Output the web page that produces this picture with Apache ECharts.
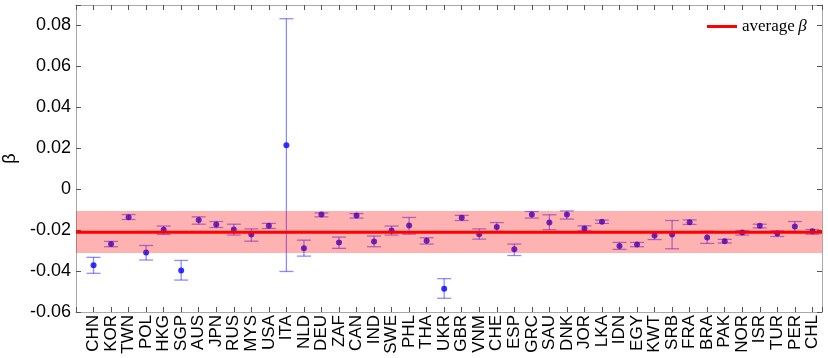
<!DOCTYPE html>
<html>
<head>
<meta charset="utf-8">
<script src="https://cdn.jsdelivr.net/npm/echarts@6.0.0/dist/echarts.min.js"></script>
<style>
  html, body { margin: 0; padding: 0; background: #fff; }
  #chart { width: 828px; height: 358px; }
</style>
</head>
<body>
<div id="chart"></div>
<script>
var countries = ['CHN','KOR','TWN','POL','HKG','SGP','AUS','JPN','RUS','MYS','USA','ITA',
  'NLD','DEU','ZAF','CAN','IND','SWE','PHL','THA','UKR',
  'GBR','VNM','CHE','ESP','GRC','SAU',
  'DNK','JOR','LKA','IDN','EGY','KWT','SRB','FRA','BRA','PAK','NOR','ISR','TUR','PER','CHL'];

var beta = [-0.0371,-0.0268,-0.0137,-0.0309,-0.0198,-0.0397,-0.0151,-0.0172,-0.0197,-0.0221,-0.0179,0.0215,
  -0.0288,-0.0124,-0.0260,-0.0128,-0.0255,-0.0202,-0.0177,-0.0252,-0.0486,
  -0.0140,-0.0220,-0.0185,-0.0294,-0.0124,-0.0163,
  -0.0124,-0.0192,-0.0159,-0.0278,-0.0270,-0.0226,-0.0221,-0.0161,-0.0236,-0.0254,-0.0211,-0.0179,-0.0216,-0.0182,-0.0206];

var betaHigh = [-0.0333,-0.0255,-0.0124,-0.0275,-0.0180,-0.0348,-0.0135,-0.0158,-0.0171,-0.0194,-0.0167,0.0833,
  -0.0249,-0.0116,-0.0234,-0.0119,-0.0229,-0.0180,-0.0138,-0.0237,-0.0437,
  -0.0128,-0.0194,-0.0163,-0.0268,-0.0109,-0.0125,
  -0.0106,-0.0179,-0.0151,-0.0260,-0.0260,-0.0208,-0.0153,-0.0150,-0.0205,-0.0245,-0.0202,-0.0171,-0.0203,-0.0158,-0.0197];

var betaLow = [-0.0411,-0.0281,-0.0148,-0.0346,-0.0221,-0.0444,-0.0171,-0.0187,-0.0224,-0.0254,-0.0192,-0.0402,
  -0.0327,-0.0135,-0.0289,-0.0141,-0.0281,-0.0224,-0.0220,-0.0268,-0.0533,
  -0.0153,-0.0244,-0.0206,-0.0324,-0.0141,-0.0198,
  -0.0146,-0.0203,-0.0167,-0.0294,-0.0281,-0.0246,-0.0291,-0.0172,-0.0265,-0.0263,-0.0224,-0.0189,-0.0231,-0.0206,-0.0220];

var avgBeta = -0.0210;
var bandLow = -0.0312;
var bandHigh = -0.0107;

var yTicks = [-0.06, -0.04, -0.02, 0, 0.02, 0.04, 0.06, 0.08];

var xMax = 42.55;

var points = [], errs = [];
for (var i = 0; i < countries.length; i++) {
  points.push([i + 1, beta[i]]);
  errs.push([i + 1, betaLow[i], betaHigh[i]]);
}

var tickStyle = { inside: true, length: 5, lineStyle: { color: '#555', width: 1 } };
var frameStyle = { onZero: false, lineStyle: { color: '#a8a8a8', width: 1 } };

function renderErr(params, api) {
  var x = api.value(0);
  var lo = api.coord([x, api.value(1)]);
  var hi = api.coord([x, api.value(2)]);
  var w = 7;
  var st = { stroke: 'rgba(0,0,255,0.45)', lineWidth: 1.3 };
  return {
    type: 'group',
    children: [
      { type: 'line', shape: { x1: lo[0], y1: lo[1], x2: hi[0], y2: hi[1] }, style: st },
      { type: 'line', shape: { x1: lo[0] - w, y1: lo[1], x2: lo[0] + w, y2: lo[1] }, style: st },
      { type: 'line', shape: { x1: hi[0] - w, y1: hi[1], x2: hi[0] + w, y2: hi[1] }, style: st }
    ]
  };
}

function renderBand(params, api) {
  var p1 = api.coord([api.value(0), api.value(2)]);
  var p2 = api.coord([xMax, api.value(1)]);
  return {
    type: 'rect',
    shape: { x: p1[0], y: p1[1], width: p2[0] - p1[0], height: p2[1] - p1[1] },
    style: { fill: 'rgba(255,0,0,0.3)' }
  };
}

var myChart = echarts.init(document.getElementById('chart'));

var option = {
  animation: false,
  grid: { left: 76, right: 6, top: 5, bottom: 46, outerBoundsMode: 'none' },
  legend: {
    left: 702,
    top: 13,
    icon: 'rect',
    itemWidth: 30,
    itemHeight: 3,
    itemGap: 4,
    data: ['average β'],
    formatter: function () { return '{n|average} {b|β}'; },
    textStyle: {
      rich: {
        n: { fontFamily: 'Liberation Serif', fontSize: 17, color: '#000' },
        b: { fontFamily: 'Liberation Serif', fontStyle: 'italic', fontSize: 17, color: '#000' }
      }
    }
  },
  xAxis: [
    {
      type: 'value', min: 0, max: xMax, interval: 1, position: 'bottom',
      axisLine: frameStyle, axisTick: tickStyle, splitLine: { show: false },
      axisLabel: {
        rotate: 90, margin: 3, fontFamily: 'Liberation Sans', fontSize: 17, color: '#000',
        formatter: function (v) {
          return (Math.abs(v - Math.round(v)) < 1e-6 && v >= 1) ? (countries[Math.round(v) - 1] || '') : '';
        }
      }
    },
    {
      type: 'value', min: 0, max: xMax, interval: 1, position: 'top',
      axisLine: frameStyle, axisTick: tickStyle, splitLine: { show: false },
      axisLabel: { show: false }
    }
  ],
  yAxis: [
    {
      type: 'value', min: -0.06, max: 0.09, interval: 0.02, position: 'left',
      name: 'β', nameLocation: 'middle', nameGap: 56, nameRotate: 90,
      nameTextStyle: { fontFamily: 'Liberation Sans', fontSize: 18, color: '#000' },
      axisLine: frameStyle, axisTick: tickStyle, splitLine: { show: false },
      axisLabel: {
        margin: 5, fontFamily: 'Liberation Sans', fontSize: 18, color: '#000',
        formatter: function (v) {
          for (var k = 0; k < yTicks.length; k++) {
            if (Math.abs(v - yTicks[k]) < 1e-9) return String(yTicks[k]);
          }
          return '';
        }
      }
    },
    {
      type: 'value', min: -0.06, max: 0.09, interval: 0.02, position: 'right',
      axisLine: frameStyle, axisTick: tickStyle, splitLine: { show: false },
      axisLabel: { show: false }
    }
  ],
  series: [
    {
      name: 'errors',
      type: 'custom',
      renderItem: renderErr,
      encode: { x: 0, y: [1, 2] },
      data: errs,
      z: 2
    },
    {
      name: 'beta',
      type: 'scatter',
      symbolSize: 6,
      itemStyle: { color: '#0000ff' },
      data: points,
      z: 3
    },
    {
      name: 'band',
      type: 'custom',
      renderItem: renderBand,
      encode: { x: 0, y: [1, 2] },
      data: [[0, bandLow, bandHigh]],
      z: 4
    },
    {
      name: 'average β',
      type: 'line',
      symbol: 'none',
      lineStyle: { color: '#ff0000', width: 3 },
      itemStyle: { color: '#ff0000' },
      data: [[0, avgBeta], [xMax, avgBeta]],
      z: 5
    }
  ]
};

myChart.setOption(option);
</script>
</body>
</html>
